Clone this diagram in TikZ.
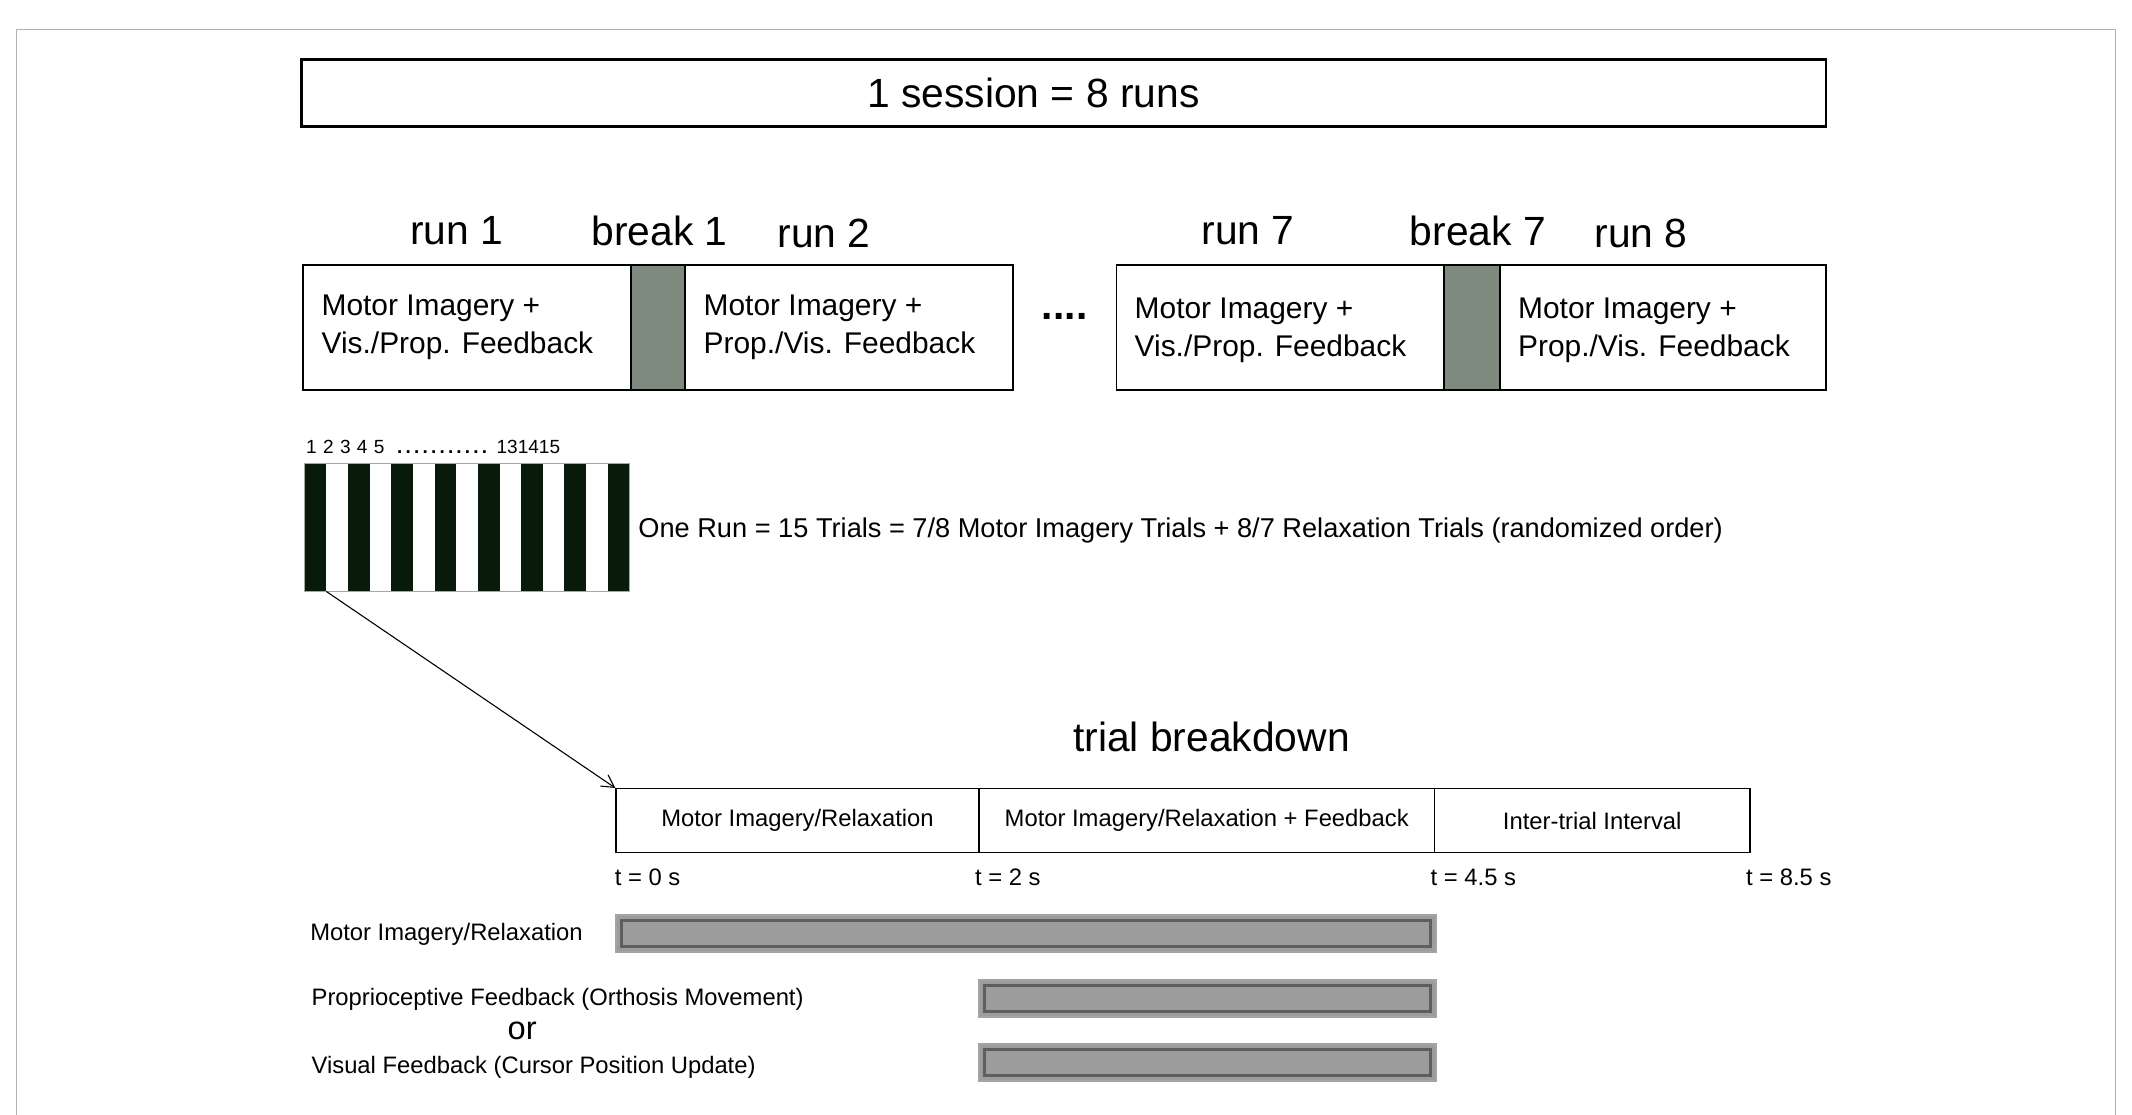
\documentclass[tikz,border=0pt]{standalone}
\usepackage{fontspec}
\setmainfont{Liberation Sans}
\usetikzlibrary{arrows.meta}
\begin{document}
\begin{tikzpicture}[x=1pt,y=-1pt,
  box/.style={draw,line width=1.2pt,inner sep=0},
  brk/.style={draw,line width=1.2pt,fill=brkgray},
  big/.style={font=\fontsize{30}{34}\selectfont},
  mid/.style={font=\fontsize{22}{28}\selectfont,align=left,anchor=west},
  sml/.style={font=\fontsize{17.5}{20}\selectfont},
  bar/.style={fill=bargray,draw=barlight,line width=1.5pt}]
\definecolor{brkgray}{HTML}{7F8A7F}
\definecolor{bargray}{HTML}{9C9C9C}
\definecolor{barlight}{HTML}{A4A4A4}
\definecolor{bardark}{HTML}{5E5E5E}
\definecolor{stripe}{HTML}{0A1A0A}
\useasboundingbox (0,0) rectangle (1568,820);
\draw[gray!60,line width=0.8pt] (12,822) -- (12,22) -- (1556,22) -- (1556,822);
% session
\node[box,line width=2pt,minimum width=1121pt,minimum height=49pt] (sess) at (782.5,68.5) {};
\node[big] (sesst) at (760,68) {1 session = 8 runs};
% run labels
\node[big] (l1) at (336,170) {run 1};
\node[big] (lb1) at (485,170) {break 1};
\node[big] (l2) at (606,172) {run 2};
\node[big] (l7) at (918,170) {run 7};
\node[big] (lb7) at (1087,170) {break 7};
\node[big] (l8) at (1207,172) {run 8};
% run boxes
\draw[box] (223,195) rectangle (464,287);
\draw[brk] (464,195) rectangle (504,287);
\draw[box] (504,195) rectangle (745,287);
\draw[box] (821,195) rectangle (1062,287);
\draw[brk] (1062,195) rectangle (1103,287);
\draw[box] (1103,195) rectangle (1343,287);
\node[mid] (t1) at (233,241) {Motor Imagery +\\Vis./Prop. Feedback};
\node[mid] (t2) at (514,241) {Motor Imagery +\\Prop./Vis. Feedback};
\node[mid] (t7) at (831,243) {Motor Imagery +\\Vis./Prop. Feedback};
\node[mid] (t8) at (1113,243) {Motor Imagery +\\Prop./Vis. Feedback};
\node[font=\fontsize{30}{34}\selectfont\bfseries] (dots) at (783,233) {....};
% stripes
\draw[gray!70,line width=0.6pt] (224,341) rectangle (463,435);
\foreach \i in {0,2,...,14}{
  \fill[stripe] ({224+\i*15.93},341) rectangle ({224+(\i+1)*15.93},435);
}
\node[font=\fontsize{14}{16}\selectfont,anchor=west,inner sep=0] (nums) at (225,329) {1\,\,2\,\,3\,\,4\,\,5\,\,\,\textbf{\,.\,.\,.\,.\,.\,.\,.\,.\,.\,.\,.}\,\,\,131415};
\coordinate (stripbot) at (240,435);
\node[sml,font=\fontsize{20}{24}\selectfont,anchor=west] (onerun) at (466,390) {One Run = 15 Trials = 7/8 Motor Imagery Trials + 8/7 Relaxation Trials (randomized order)};
% trial breakdown
\node[big] (tb) at (891,542) {trial breakdown};
\node[box,line width=1pt,minimum width=267pt,minimum height=47pt,sml] (p1) at (586.5,603.5) {Motor Imagery/Relaxation};
\node[box,line width=1pt,minimum width=335pt,minimum height=47pt,sml] (p2) at (887.5,603.5) {Motor Imagery/Relaxation + Feedback};
\node[box,line width=1pt,minimum width=232pt,minimum height=47pt,sml] (p3) at (1171,603.5) {Inter-trial Interval};
\draw[-{Straight Barb[length=9pt,width=10pt]},line width=0.8pt] (stripbot) -- (p1.north west);
\node[sml,anchor=west,inner sep=0] (tt0) at (452,645) {t = 0 s};
\node[sml,anchor=west,inner sep=0] (tt2) at (717,645) {t = 2 s};
\node[sml,anchor=west,inner sep=0] (tt4) at (1052,645) {t = 4.5 s};
\node[sml,anchor=west,inner sep=0] (tt8) at (1284,645) {t = 8.5 s};
% bars
\foreach \a/\b/\c/\d in {453/673/1056/700, 720/721/1056/748, 720/768/1056/795}{
  \draw[bar] (\a,\b) rectangle (\c,\d);
  \draw[bardark,line width=2.5pt] (\a+4,\b+4) rectangle (\c-4,\d-4);
}
\node[sml,anchor=west,inner sep=0] (r1) at (228,687) {Motor Imagery/Relaxation};
\node[sml,anchor=west,inner sep=0] (r2) at (229,735) {Proprioceptive Feedback (Orthosis Movement)};
\node[font=\fontsize{24}{28}\selectfont] (or) at (384,758) {or};
\node[sml,anchor=west,inner sep=0] (r3) at (229,785) {Visual Feedback (Cursor Position Update)};
\end{tikzpicture}
\end{document}
